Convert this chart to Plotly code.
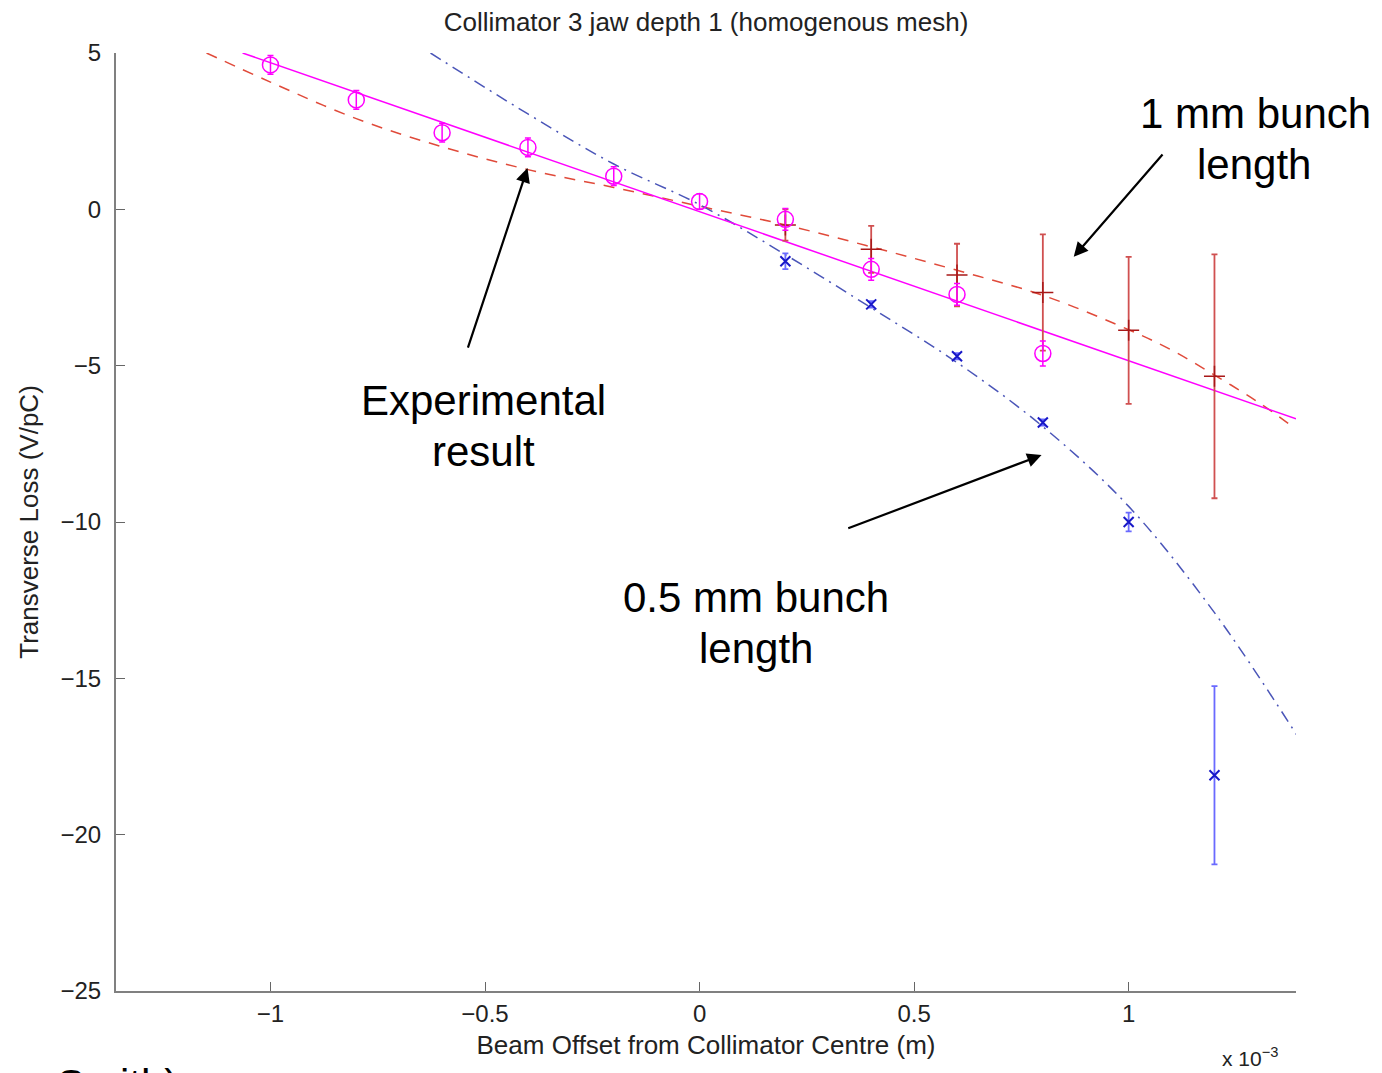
import plotly.graph_objects as go

# Experimental result (magenta circles) and its straight-line fit
x_exp = [-1.0, -0.8, -0.6, -0.4, -0.2, 0.0, 0.2, 0.4, 0.6, 0.8]
y_exp = [4.62, 3.5, 2.45, 1.98, 1.06, 0.25, -0.32, -1.92, -2.72, -4.61]
err_exp = [0.3, 0.3, 0.3, 0.3, 0.3, 0.25, 0.35, 0.35, 0.35, 0.4]
x_exp_fit = [-1.065, 1.39]
y_exp_fit = [5.0, -6.7]

# 1 mm bunch length simulation (red +) and its dashed curve
x_1mm = [0.2, 0.4, 0.6, 0.8, 1.0, 1.2]
y_1mm = [-0.5, -1.28, -2.1, -2.66, -3.87, -5.34]
err_1mm = [0.5, 0.75, 1.0, 1.86, 2.35, 3.9]
x_1mm_fit = [-1.149, -1.0, -0.8, -0.6, -0.4, -0.2, 0.0, 0.2, 0.4, 0.6, 0.8, 1.0, 1.1, 1.2, 1.3, 1.387]
y_1mm_fit = [5.0, 4.07, 2.9, 2.0, 1.27, 0.7, 0.1, -0.5, -1.2, -1.95, -2.75, -3.85, -4.5, -5.3, -6.15, -7.0]

# 0.5 mm bunch length simulation (blue x) and its dash-dot curve
x_half = [0.2, 0.4, 0.6, 0.8, 1.0, 1.2]
y_half = [-1.66, -3.04, -4.7, -6.82, -10.0, -18.1]
err_half = [0.25, 0.1, 0.1, 0.1, 0.3, 2.85]
x_half_fit = [-0.627, -0.4, -0.2, 0.0, 0.2, 0.4, 0.6, 0.8, 1.0, 1.2, 1.396]
y_half_fit = [5.0, 3.05, 1.45, 0.15, -1.45, -3.15, -4.9, -6.95, -9.5, -12.9, -16.9]

x_ticks = [-1, -0.5, 0, 0.5, 1]
y_ticks = [5, 0, -5, -10, -15, -20, -25]

FONT = "Liberation Sans, Arial, sans-serif"
W, H = 1374, 1065  # page body adds 8px margin

fig = go.Figure()

# fit curves
fig.add_trace(go.Scatter(x=x_1mm_fit, y=y_1mm_fit, mode='lines', line_shape='spline',
                         line=dict(color='#e04a3a', width=1.5, dash='11px,9px')))
fig.add_trace(go.Scatter(x=x_half_fit, y=y_half_fit, mode='lines', line_shape='spline',
                         line=dict(color='#4a55b8', width=1.5, dash='12px,6px,2px,6px')))
fig.add_trace(go.Scatter(x=x_exp_fit, y=y_exp_fit, mode='lines',
                         line=dict(color='#ff00ff', width=1.5)))

# data points with error bars
fig.add_trace(go.Scatter(
    x=x_1mm, y=y_1mm, mode='markers',
    marker=dict(symbol='cross-thin-open', size=15, color='#a81818', line=dict(width=1.5)),
    error_y=dict(type='data', array=err_1mm, color='#d05050', thickness=1.8, width=3)))
fig.add_trace(go.Scatter(
    x=x_half, y=y_half, mode='markers',
    marker=dict(symbol='x-thin-open', size=10, color='#1818c8', line=dict(width=2)),
    error_y=dict(type='data', array=err_half, color='#6a6aff', thickness=1.8, width=3)))
fig.add_trace(go.Scatter(
    x=x_exp, y=y_exp, mode='markers',
    marker=dict(symbol='circle-open', size=16, color='#ff00ff', line=dict(width=1.5)),
    error_y=dict(type='data', array=err_exp, color='#ff00ff', thickness=1.5, width=3)))

big = dict(family=FONT, size=42, color='black')
labels = [
    (1.296, 3.08, "1 mm bunch"), (1.291, 1.42, "length"),
    (-0.503, -6.10, "Experimental"), (-0.503, -7.76, "result"),
    (0.131, -12.40, "0.5 mm bunch"), (0.131, -14.06, "length"),
]
annotations = [dict(x=x, y=y, text=t, xref='x', yref='y', showarrow=False, font=big,
                    xanchor='center', yanchor='middle') for x, y, t in labels]

arrows = [
    ((0.872, -1.52), (1.082, 1.80)),
    ((-0.401, 1.32), (-0.541, -4.47)),
    ((0.797, -7.86), (0.343, -10.22)),
]
for (hx, hy), (tx, ty) in arrows:
    annotations.append(dict(x=hx, y=hy, ax=tx, ay=ty, xref='x', yref='y', axref='x', ayref='y',
                            text='', showarrow=True, arrowhead=2, arrowsize=1.3,
                            arrowwidth=2.2, arrowcolor='black'))

annotations.append(dict(x=0.961, y=-0.0704, xref='paper', yref='paper', showarrow=False,
                        text="x 10<sup>−3</sup>", xanchor='center', yanchor='middle',
                        font=dict(family=FONT, size=21, color='#222')))
annotations.append(dict(x=-0.052, y=-0.073, xref='paper', yref='paper', showarrow=False,
                        text="Smith)", xanchor='left', yanchor='top', font=big))

fig.update_layout(
    width=W, height=H,
    margin=dict(l=108, r=86, t=45, b=82),
    paper_bgcolor='white', plot_bgcolor='white',
    showlegend=False,
    font=dict(family=FONT, size=24, color='#222'),
    title=dict(text="Collimator 3 jaw depth 1 (homogenous mesh)", x=0.5, xref='paper',
               y=1 - 14 / H, yanchor='middle', font=dict(family=FONT, size=26, color='#222')),
    xaxis=dict(
        range=[-1.36, 1.39], tickvals=x_ticks, ticktext=[str(t).replace('-', '−') for t in x_ticks],
        ticks='inside', ticklen=9, tickcolor='#666', showline=True, linecolor='#808080', linewidth=2,
        showgrid=False, zeroline=False, mirror=False, automargin=False,
        title=dict(text="Beam Offset from Collimator Centre (m)", standoff=10,
                   font=dict(family=FONT, size=26, color='#222'))
    ),
    yaxis=dict(
        range=[-25, 5], tickvals=y_ticks, ticklabelstandoff=8,
        ticks='inside', ticklen=9, tickcolor='#666', showline=True, linecolor='#808080', linewidth=2,
        showgrid=False, zeroline=False, mirror=False, automargin=False,
        title=dict(text="Transverse Loss (V/pC)", standoff=14,
                   font=dict(family=FONT, size=26, color='#222'))
    ),
    annotations=annotations,
)

fig.write_html("out.html")
